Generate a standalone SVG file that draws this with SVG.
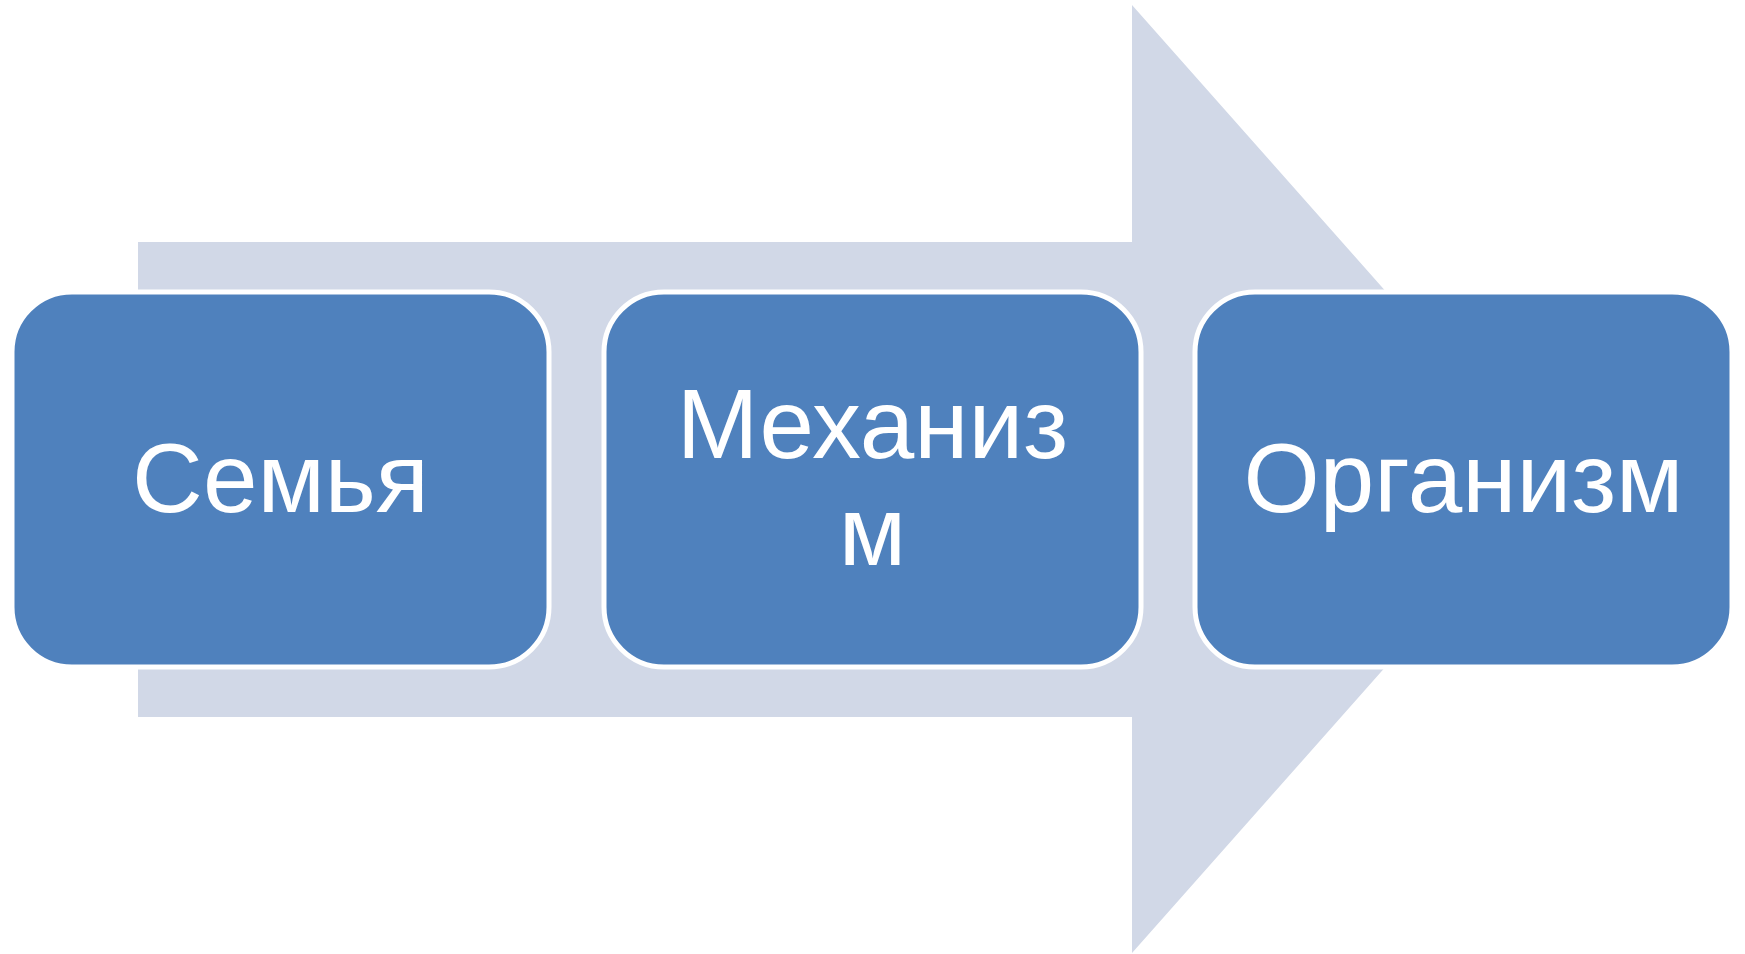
<svg xmlns="http://www.w3.org/2000/svg" width="1745" height="954" viewBox="0 0 1745 954">
<style>
.box{fill:#4F81BD;stroke:#FFFFFF;stroke-width:5}
.lbl{font-family:"Liberation Sans",Arial,sans-serif;font-size:98px;fill:#FFFFFF;text-anchor:middle}
</style>
<rect width="1745" height="954" fill="#FFFFFF"/>
<g id="connectors">
<polygon points="138,242 1132,242 1132,5 1552,479 1132,953 1132,717 138,717" fill="#D1D8E7"/>
</g>
<g id="node-semya">
<rect class="box" x="12" y="292" width="537" height="375" rx="60" ry="60"/>
<text class="lbl" x="280.5" y="512">Семья</text>
</g>
<g id="node-mekhanizm">
<rect class="box" x="604" y="292" width="537" height="375" rx="60" ry="60"/>
<text class="lbl" x="872.5" y="458">Механиз</text>
<text class="lbl" x="872.5" y="565">м</text>
</g>
<g id="node-organizm">
<rect class="box" x="1195" y="292" width="537" height="375" rx="60" ry="60"/>
<text class="lbl" x="1463.5" y="512">Организм</text>
</g>
</svg>
